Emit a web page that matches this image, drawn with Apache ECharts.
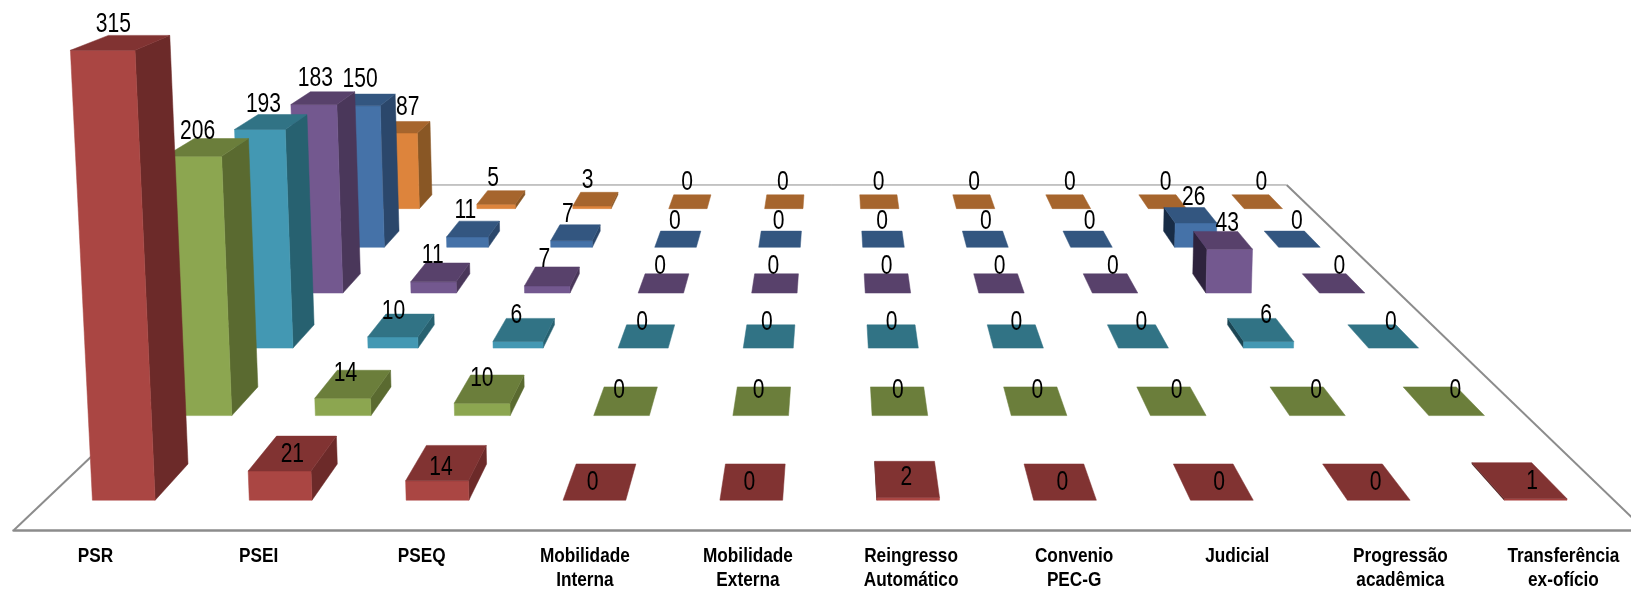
<!DOCTYPE html>
<html>
<head>
<meta charset="utf-8">
<style>html,body{margin:0;padding:0;background:#fff}#c{width:1631px;height:592px}</style>
<script src="https://cdn.jsdelivr.net/npm/echarts@6/dist/echarts.min.js"></script>
</head>
<body>
<div id="c"></div>
<script>
// ---------- data ----------
var categories = ['PSR','PSEI','PSEQ','Mobilidade\nInterna','Mobilidade\nExterna','Reingresso\nAutomático','Convenio\nPEC-G','Judicial','Progressão\nacadêmica','Transferência\nex-ofício'];
var redValues    = [315,21,14,0,0,2,0,0,0,1];
var greenValues  = [206,14,10,0,0,0,0,0,0,0];
var tealValues   = [193,10,6,0,0,0,0,0,6,0];
var purpleValues = [183,11,7,0,0,0,0,0,43,0];
var blueValues   = [150,11,7,0,0,0,0,0,26,0];
var orangeValues = [87,5,3,0,0,0,0,0,0,0];

// ---------- styles (front to back) ----------
var rows = [redValues, greenValues, tealValues, purpleValues, blueValues, orangeValues];
var palette = [
  {front:'#AA4643', top:'#813332', right:'#6C2A29', left:'#4a1c1b'},
  {front:'#8CA650', top:'#6B7E3B', right:'#5A6A30', left:'#3c4720'},
  {front:'#4398B3', top:'#317385', right:'#276170', left:'#1B4553'},
  {front:'#73588F', top:'#58416B', right:'#4A375A', left:'#2E233D'},
  {front:'#4572A8', top:'#335680', right:'#2B476B', left:'#182C46'},
  {front:'#DD843C', top:'#A6652D', right:'#895725', left:'#5c3a18'}
];
var FONT = '"Liberation Sans", Arial, sans-serif';

// ---------- projection of the 3D floor / height onto the page ----------
var VX = 835, VY = -250, NY = 780;          // vanishing point and floor-front numerator
var XMIN = -821, CELL = 163.1;              // floor extent along the categories
var T_STEP = 0.1322, T_BAR = 0.0528;        // depth spacing of rows and bar depth
var BAR = 0.4 * CELL;
var RISE = 1.5135, LEAN = 9.5e-5;           // height scale and vertical convergence
var T_BACK = 1 + 6 * T_STEP;

function project(X, t, h) {
  var w = t - LEAN * h;
  return [VX + X / w, VY + (NY - RISE * h) / w];
}
function colX(c) { return XMIN + CELL * (c + 0.5); }
function rowT(r) { return 1 + T_STEP * (r + 0.5); }

// ---------- label placement relative to the top-face centre ----------
var rowLift = [-0.6, -12.5, -16, -18.5, -20, -21];
var rowSpread = [0.022, 0.02, 0.0135, 0.0105, 0.0087, 0.0077];
var labelNudge = {'0,0':[-8,-20],'1,0':[-10,-18],'2,0':[-8,-19.5],'3,0':[-8,-21],'4,0':[-7,-22],'5,0':[3,-22],
                  '0,1':[-1,-1],'0,2':[-6,3],'0,5':[0,-3.3]};
function labelOffset(r, c) {
  var k = r + ',' + c;
  if (labelNudge[k]) return labelNudge[k];
  var dx = c < 3 ? -8 : rowSpread[r] * (colX(c) - 76) - 0.5;
  return [dx, rowLift[r]];
}

// ---------- series data (painted back to front) ----------
var barData = [];
for (var r = rows.length - 1; r >= 0; r--) {
  rows[r].forEach(function (v, c) { barData.push([c, r, v]); });
}
var categoryData = categories.map(function (n, i) { return [i]; });

function poly(pts, fill) {
  return {type:'polygon', shape:{points:pts}, silent:true,
          style:{fill:fill, stroke:fill, lineWidth:0.5}};
}

function renderBar(params, api) {
  var c = api.value(0), r = api.value(1), h = api.value(2);
  var col = palette[r];
  var cx = colX(c), t0 = rowT(r) - T_BAR / 2, t1 = rowT(r) + T_BAR / 2;
  var xl = cx - BAR / 2, xr = cx + BAR / 2;
  var children = [];
  if (h > 0) {
    if (xr < 0) {
      children.push(poly([project(xr,t0,0), project(xr,t1,0), project(xr,t1,h), project(xr,t0,h)], col.right));
    } else if (xl > 0) {
      children.push(poly([project(xl,t0,0), project(xl,t1,0), project(xl,t1,h), project(xl,t0,h)], col.left));
    }
    children.push(poly([project(xl,t0,0), project(xr,t0,0), project(xr,t0,h), project(xl,t0,h)], col.front));
  }
  children.push(poly([project(xl,t0,h), project(xr,t0,h), project(xr,t1,h), project(xl,t1,h)], col.top));
  return {type:'group', children:children};
}

function renderLabel(params, api) {
  var c = api.value(0), r = api.value(1), h = api.value(2);
  var p = project(colX(c), rowT(r), h), o = labelOffset(r, c);
  return {type:'text', silent:true, x:p[0] + o[0], y:p[1] + o[1] + 2, scaleX:0.78,
    style:{text:String(h), fill:'#000', align:'center', verticalAlign:'middle',
           font:'27px ' + FONT}};
}

function renderCategory(params, api) {
  var i = api.value(0);
  var p = project(colX(i), 1, 0);
  return {type:'text', silent:true, x:p[0], y:p[1] + 14, scaleX:0.82,
    style:{text:categories[i], fill:'#000', align:'center', verticalAlign:'top',
           lineHeight:24, font:'bold 21px ' + FONT}};
}

function renderFloor() {
  var xMax = XMIN + CELL * 10;
  var side = {stroke:'#8c8c8c', lineWidth:2, fill:'none'};
  var back = {stroke:'#8c8c8c', lineWidth:1, fill:'none'};
  return {type:'group', children:[
    {type:'polyline', silent:true, shape:{points:[project(XMIN,T_BACK,0), project(xMax,T_BACK,0)]}, style:back},
    {type:'polyline', silent:true, shape:{points:[project(XMIN,1,0), project(XMIN,T_BACK,0)]}, style:side},
    {type:'polyline', silent:true, shape:{points:[project(xMax,1,0), project(xMax,T_BACK,0)]}, style:side}
  ]};
}

var chart = echarts.init(document.getElementById('c'), null, {renderer:'canvas'});
chart.setOption({
  animation:false,
  backgroundColor:'#fff',
  grid:{left:13.5, right:0, top:0, height:530},
  xAxis:{type:'category', data:categories, boundaryGap:true,
    axisTick:{show:false}, splitLine:{show:false}, axisLabel:{show:false},
    axisLine:{show:true, lineStyle:{color:'#8c8c8c', width:2.5}}},
  yAxis:{type:'value', show:false, min:0, max:1},
  series:[
    {type:'custom', coordinateSystem:'none', renderItem:renderFloor, data:[[0]], z:1, silent:true},
    {type:'custom', coordinateSystem:'none', renderItem:renderBar, data:barData, z:2, silent:true},
    {type:'custom', coordinateSystem:'none', renderItem:renderLabel, data:barData, z:3, silent:true},
    {type:'custom', coordinateSystem:'none', renderItem:renderCategory, data:categoryData, z:3, silent:true}
  ]
});
</script>
</body>
</html>
